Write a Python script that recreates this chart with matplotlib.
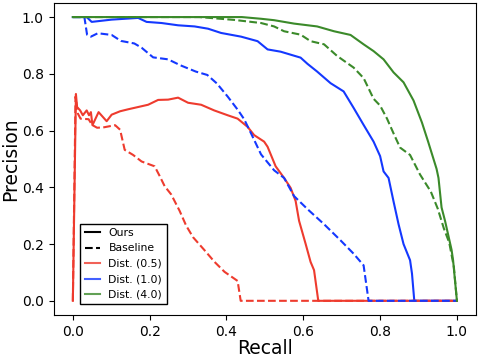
import matplotlib
matplotlib.use("Agg")
import matplotlib.pyplot as plt
from matplotlib.lines import Line2D


# Precision / recall curves
# Dist. (0.5)
red_ours_x = [0.0, 0.008, 0.011, 0.019, 0.026, 0.036, 0.042, 0.047, 0.051, 0.067, 0.088, 0.101,
              0.123, 0.144, 0.170, 0.196, 0.222, 0.248, 0.274, 0.300, 0.334, 0.368, 0.403, 0.429,
              0.455, 0.472, 0.498, 0.507, 0.528, 0.550, 0.567, 0.580, 0.589, 0.606, 0.619, 0.628,
              0.639, 1.0]
red_ours_y = [0.0, 0.729, 0.683, 0.671, 0.654, 0.671, 0.654, 0.665, 0.619, 0.665, 0.633, 0.656,
              0.668, 0.675, 0.683, 0.691, 0.708, 0.709, 0.716, 0.698, 0.691, 0.671, 0.654, 0.642,
              0.613, 0.584, 0.561, 0.543, 0.474, 0.433, 0.398, 0.352, 0.282, 0.201, 0.137, 0.108,
              0.0, 0.0]
red_base_x = [0.0, 0.007, 0.013, 0.020, 0.041, 0.050, 0.063, 0.079, 0.110, 0.123, 0.135, 0.157,
              0.179, 0.213, 0.226, 0.239, 0.256, 0.278, 0.295, 0.313, 0.343, 0.369, 0.395, 0.429,
              0.437, 1.0]
red_base_y = [0.0, 0.72, 0.66, 0.642, 0.640, 0.620, 0.610, 0.611, 0.619, 0.603, 0.532, 0.514,
              0.491, 0.474, 0.440, 0.404, 0.375, 0.317, 0.265, 0.224, 0.178, 0.137, 0.102, 0.070,
              0.0, 0.0]

# Dist. (1.0)
blue_ours_x = [0.0, 0.036, 0.049, 0.101, 0.170, 0.192, 0.231, 0.274, 0.317, 0.352, 0.386, 0.438,
               0.481, 0.507, 0.541, 0.593, 0.611, 0.636, 0.671, 0.705, 0.731, 0.757, 0.783, 0.800,
               0.809, 0.822, 0.835, 0.848, 0.861, 0.878, 0.883, 0.889, 1.0]
blue_ours_y = [1.0, 1.0, 0.983, 0.991, 0.997, 0.983, 0.979, 0.971, 0.967, 0.959, 0.944, 0.931,
               0.915, 0.886, 0.878, 0.857, 0.835, 0.808, 0.767, 0.738, 0.680, 0.620, 0.561, 0.510,
               0.456, 0.433, 0.350, 0.270, 0.200, 0.143, 0.096, 0.0, 0.0]
blue_base_x = [0.0, 0.030, 0.037, 0.047, 0.065, 0.101, 0.125, 0.160, 0.179, 0.209, 0.248, 0.280,
               0.320, 0.350, 0.375, 0.403, 0.430, 0.446, 0.464, 0.490, 0.524, 0.550, 0.576, 0.611,
               0.654, 0.697, 0.731, 0.757, 0.770, 1.0]
blue_base_y = [1.0, 1.0, 0.938, 0.931, 0.943, 0.937, 0.916, 0.907, 0.892, 0.858, 0.851, 0.830,
               0.808, 0.796, 0.766, 0.720, 0.672, 0.640, 0.590, 0.516, 0.460, 0.433, 0.369, 0.323,
               0.270, 0.213, 0.166, 0.125, 0.0, 0.0]

# Dist. (4.0)
green_ours_x = [0.0, 0.44, 0.49, 0.524, 0.576, 0.636, 0.680, 0.723, 0.757, 0.783, 0.809, 0.835,
                0.861, 0.887, 0.909, 0.925, 0.947, 0.952, 0.960, 0.969, 0.986, 0.990, 1.0]
green_ours_y = [1.0, 1.0, 0.994, 0.989, 0.977, 0.967, 0.950, 0.937, 0.904, 0.880, 0.851, 0.805,
                0.770, 0.706, 0.628, 0.561, 0.465, 0.433, 0.329, 0.282, 0.180, 0.143, 0.0]
green_base_x = [0.0, 0.33, 0.42, 0.49, 0.524, 0.550, 0.593, 0.619, 0.654, 0.688, 0.731, 0.757,
                0.783, 0.800, 0.818, 0.835, 0.852, 0.878, 0.904, 0.932, 0.950, 0.966, 0.980,
                0.992, 1.0]
green_base_y = [1.0, 1.0, 0.99, 0.979, 0.967, 0.950, 0.938, 0.915, 0.904, 0.863, 0.822, 0.785,
                0.712, 0.688, 0.642, 0.590, 0.540, 0.514, 0.445, 0.385, 0.325, 0.255, 0.205,
                0.12, 0.0]

c_red = "#ee3b2e"
c_blue = "#1438ff"
c_green = "#3b8a2a"


def main():
    fig, ax = plt.subplots(figsize=(4.79, 3.6), dpi=100)
    fig.subplots_adjust(left=0.112, right=0.994, bottom=0.125, top=0.992)

    # draw order matters where curves sit on top of each other at P=0 / P=1
    ax.plot(blue_ours_x, blue_ours_y, color=c_blue, lw=1.5)
    ax.plot(red_ours_x, red_ours_y, color=c_red, lw=1.5)
    ax.plot(red_base_x, red_base_y, color=c_red, lw=1.5, linestyle="--")
    ax.plot(blue_base_x, blue_base_y, color=c_blue, lw=1.5, linestyle="--")
    ax.plot(green_base_x, green_base_y, color=c_green, lw=1.5, linestyle="--")
    ax.plot(green_ours_x, green_ours_y, color=c_green, lw=1.5)

    ax.set_xlabel("Recall", fontsize=13.5, labelpad=0)
    ax.set_ylabel("Precision", fontsize=13.5, labelpad=1)

    handles = [Line2D([], [], color="black", lw=1.5),
               Line2D([], [], color="black", lw=1.5, linestyle="--"),
               Line2D([], [], color=c_red, lw=1.5, alpha=0.8),
               Line2D([], [], color=c_blue, lw=1.5, alpha=0.8),
               Line2D([], [], color=c_green, lw=1.5, alpha=0.8)]
    labels = ["Ours", "Baseline", "Dist. (0.5)", "Dist. (1.0)", "Dist. (4.0)"]
    leg = ax.legend(handles, labels, loc="lower left", bbox_to_anchor=(0.063, 0.035),
                    borderaxespad=0, fontsize=7.8, fancybox=False, framealpha=1,
                    edgecolor="black", handlelength=1.4)
    leg.get_frame().set_linewidth(1.0)

    fig.savefig("out.png", dpi=100)


if __name__ == "__main__":
    main()
